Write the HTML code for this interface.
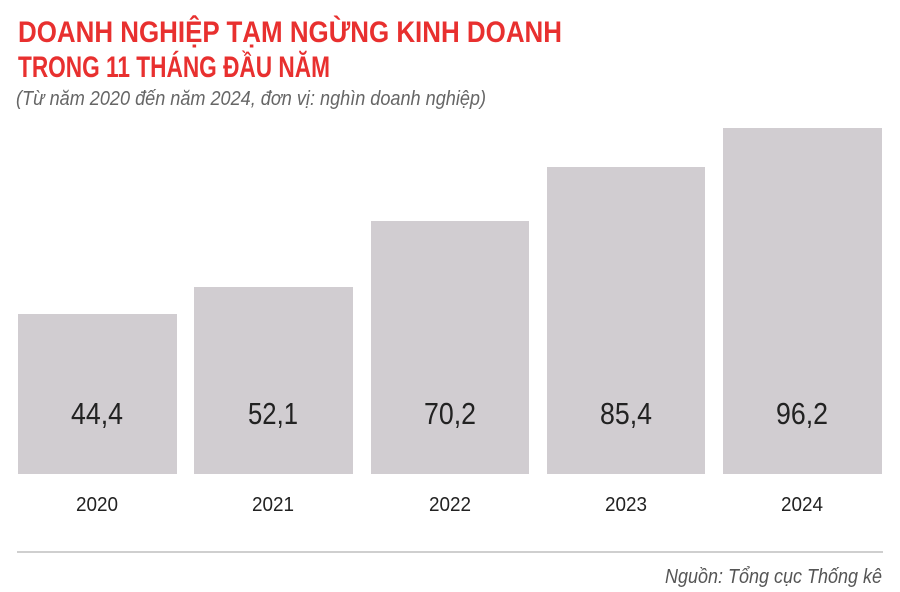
<!DOCTYPE html>
<html><head><meta charset="utf-8"><style>
html,body{margin:0;padding:0;background:#fff;}
svg{display:block;}
</style></head><body>
<svg width="900" height="592" viewBox="0 0 900 592" xmlns="http://www.w3.org/2000/svg">
<g font-family="Liberation Sans, DejaVu Sans, sans-serif">
<text x="18" y="42" font-size="30" font-weight="bold" fill="#e8302f" textLength="544" lengthAdjust="spacingAndGlyphs">DOANH NGHIỆP TẠM NGỪNG KINH DOANH</text>
<text x="18" y="77" font-size="30" font-weight="bold" fill="#e8302f" textLength="312" lengthAdjust="spacingAndGlyphs">TRONG 11 THÁNG ĐẦU NĂM</text>
<text x="16" y="105" font-size="20" font-style="italic" fill="#666" textLength="470" lengthAdjust="spacingAndGlyphs">(Từ năm 2020 đến năm 2024, đơn vị: nghìn doanh nghiệp)</text>
<g fill="#d1cdd1">
<rect x="18" y="314" width="159" height="160"/>
<rect x="194" y="287" width="159" height="187"/>
<rect x="371" y="221" width="158" height="253"/>
<rect x="547" y="167" width="158" height="307"/>
<rect x="723" y="128" width="159" height="346"/>
</g>
<g font-size="31" fill="#222" text-anchor="middle">
<text x="97" y="424" textLength="52" lengthAdjust="spacingAndGlyphs">44,4</text>
<text x="273" y="424" textLength="50" lengthAdjust="spacingAndGlyphs">52,1</text>
<text x="450" y="424" textLength="52" lengthAdjust="spacingAndGlyphs">70,2</text>
<text x="626" y="424" textLength="52" lengthAdjust="spacingAndGlyphs">85,4</text>
<text x="802" y="424" textLength="52" lengthAdjust="spacingAndGlyphs">96,2</text>
</g>
<g font-size="20" fill="#222" text-anchor="middle">
<text x="97" y="511" textLength="42" lengthAdjust="spacingAndGlyphs">2020</text>
<text x="273" y="511" textLength="42" lengthAdjust="spacingAndGlyphs">2021</text>
<text x="450" y="511" textLength="42" lengthAdjust="spacingAndGlyphs">2022</text>
<text x="626" y="511" textLength="42" lengthAdjust="spacingAndGlyphs">2023</text>
<text x="802" y="511" textLength="42" lengthAdjust="spacingAndGlyphs">2024</text>
</g>
<rect x="17" y="551" width="866" height="2" fill="#cfcfcf"/>
<text x="665" y="583" font-size="20" font-style="italic" fill="#555" textLength="217" lengthAdjust="spacingAndGlyphs">Nguồn: Tổng cục Thống kê</text>
</g>
</svg>
</body></html>
